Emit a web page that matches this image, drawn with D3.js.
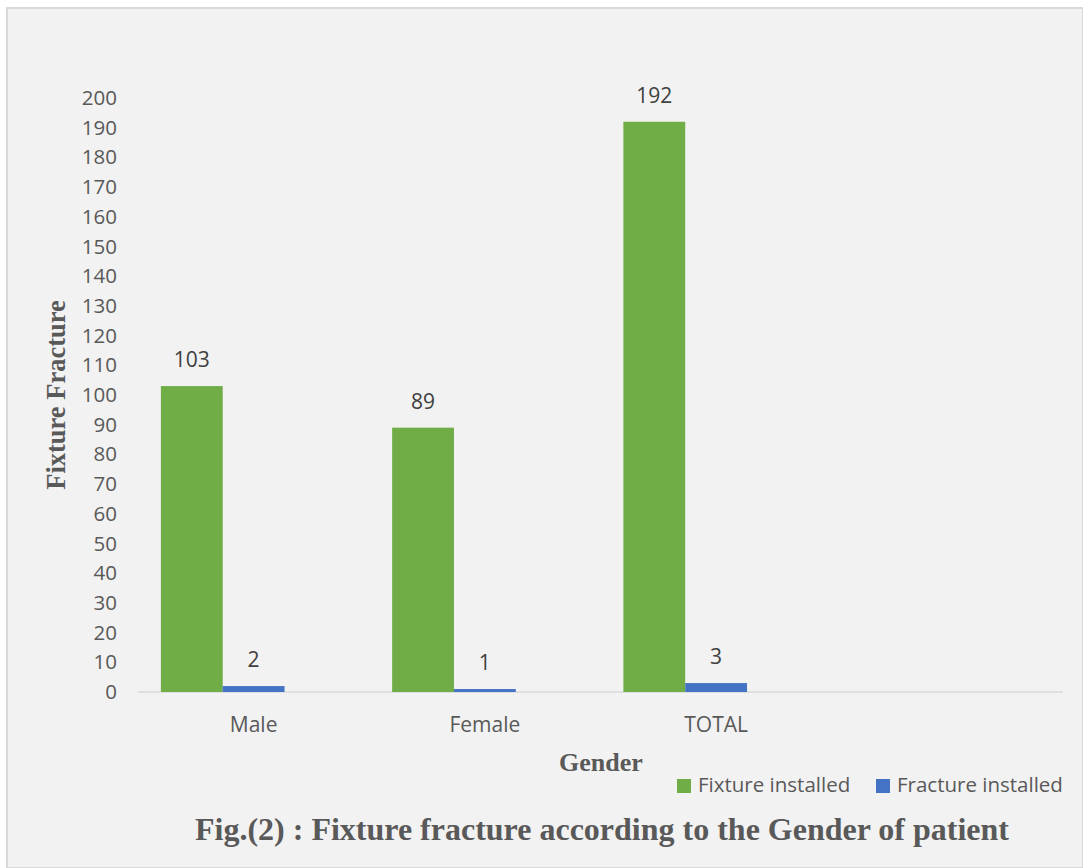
<!DOCTYPE html>
<html><head><meta charset="utf-8">
<script src="https://cdn.jsdelivr.net/npm/d3@7/dist/d3.min.js"></script>
<style>body{margin:0;background:#fff}svg{display:block}</style>
</head><body>
<script>
const categories = ["Male", "Female", "TOTAL", ""];
const seriesNames = ["Fixture installed", "Fracture installed"];
const fixtureInstalled = [103, 89, 192, null];
const fractureInstalled = [2, 1, 3, null];
const yTicks = d3.range(0, 201, 10);
const colors = ["#70ad47", "#4472c4"];

const W = 1083, H = 868;
const sans = "'Open Sans', sans-serif";
const serif = "'Liberation Serif', serif";
const svg = d3.select("body").append("svg").attr("width", W).attr("height", H);
svg.append("rect").attr("x", 7).attr("y", 8).attr("width", W - 7).attr("height", H - 8)
  .attr("fill", "#f2f2f2").attr("stroke", "#d9d9d9").attr("stroke-width", 2);

const x0 = d3.scaleBand().domain(categories).range([138, 1063]).paddingInner(0).paddingOuter(0);
// three slots per group (third empty)
const x1 = d3.scaleBand().domain([0, 1, 2]).range([0, x0.bandwidth()]).paddingOuter(0.37);
const y = d3.scaleLinear().domain([0, 200]).range([692, 98]);

const yAxis = d3.axisLeft(y).tickValues(yTicks).tickSize(0).tickPadding(0);
const gy = svg.append("g").attr("transform", "translate(117,0)").call(yAxis);
gy.select(".domain").remove();
gy.selectAll("text").attr("fill", "#595959").style("font-family", sans).style("font-size", "20.5px");

svg.append("line").attr("x1", 138).attr("x2", 1063).attr("y1", y(0)).attr("y2", y(0))
  .attr("stroke", "#d9d9d9").attr("stroke-width", 1.5);

const xAxis = d3.axisBottom(x0).tickSize(0).tickPadding(25);
const gx = svg.append("g").attr("transform", `translate(0,${y(0)})`).call(xAxis);
gx.select(".domain").remove();
gx.selectAll("text").attr("fill", "#595959").style("font-family", sans).style("font-size", "21px");

const series = [fixtureInstalled, fractureInstalled];
series.forEach((vals, si) => {
  const g = svg.append("g");
  categories.forEach((c, ci) => {
    const v = vals[ci];
    if (v == null) return;
    const bx = x0(c) + x1(si);
    g.append("rect").attr("x", bx).attr("y", y(v)).attr("width", x1.bandwidth())
      .attr("height", y(0) - y(v)).attr("fill", colors[si]);
    g.append("text").attr("x", bx + x1.bandwidth() / 2).attr("y", y(v) - 19)
      .attr("text-anchor", "middle").attr("fill", "#404040")
      .style("font-family", sans).style("font-size", "21px").text(v);
  });
});

svg.append("text").attr("transform", "translate(65,395) rotate(-90)").attr("text-anchor", "middle")
  .attr("fill", "#595959").style("font-family", serif).style("font-weight", "bold")
  .style("font-size", "26.5px").text("Fixture Fracture");

svg.append("text").attr("x", 601).attr("y", 771).attr("text-anchor", "middle")
  .attr("fill", "#595959").style("font-family", serif).style("font-weight", "bold")
  .style("font-size", "26px").text("Gender");

const legX = [677, 876];
seriesNames.forEach((n, i) => {
  svg.append("rect").attr("x", legX[i]).attr("y", 779).attr("width", 14).attr("height", 14).attr("fill", colors[i]);
  svg.append("text").attr("x", legX[i] + 21).attr("y", 792).attr("fill", "#595959")
    .style("font-family", sans).style("font-size", "20.5px").text(n);
});

svg.append("text").attr("x", 602).attr("y", 840).attr("text-anchor", "middle")
  .attr("fill", "#595959").style("font-family", serif).style("font-weight", "bold")
  .style("font-size", "32px").text("Fig.(2) : Fixture fracture according to the Gender of patient");
</script>
</body></html>
